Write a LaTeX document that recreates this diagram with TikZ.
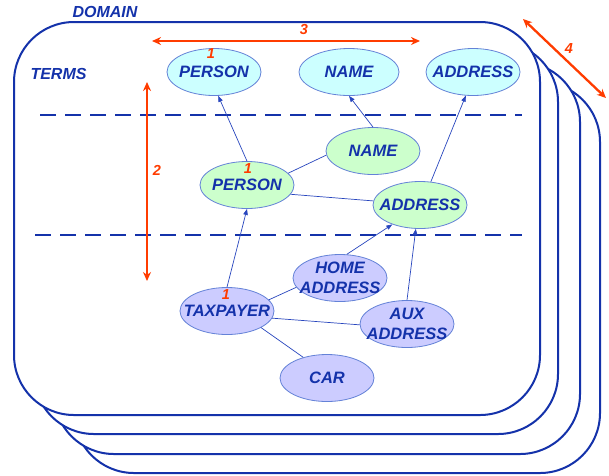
\documentclass[tikz,border=0pt]{standalone}
\usepackage{fontspec}
\setmainfont{Liberation Sans}
\usetikzlibrary{shapes.geometric,arrows.meta}
\definecolor{dblue}{RGB}{20,50,170}
\definecolor{eline}{RGB}{100,130,215}
\definecolor{cline}{RGB}{40,70,190}
\definecolor{redo}{RGB}{255,60,0}
\definecolor{cyanf}{RGB}{204,255,255}
\definecolor{greenf}{RGB}{204,255,204}
\definecolor{purplef}{RGB}{204,204,255}
\begin{document}
\begin{tikzpicture}[x=1pt,y=-1pt,
  card/.style={draw=dblue,line width=2pt,fill=white,rounded corners=60pt},
  term/.style={ellipse,draw=eline,line width=0.8pt,minimum width=94pt,minimum height=47pt,inner sep=0pt},
  tlbl/.style={font=\bfseries\itshape\fontsize{16.5}{20.5}\selectfont,text=dblue,align=center},
  ttl/.style={font=\bfseries\itshape\fontsize{16}{18}\selectfont,text=dblue},
  rlbl/.style={font=\bfseries\itshape\fontsize{14.5}{16}\selectfont,text=redo},
  dline/.style={draw=dblue,line width=2.5pt,dash pattern=on 16pt off 9pt},
  rarrow/.style={draw=redo,line width=2.3pt,{Stealth[length=9pt,width=8pt]}-{Stealth[length=9pt,width=8pt]}},
  conn/.style={draw=cline,line width=0.7pt},
  arr/.style={conn,-{Triangle[length=6pt,width=4.5pt]}}
]
\useasboundingbox (0,0) rectangle (609,475);
% stacked cards
\draw[card] (74,82) rectangle (600,473);
\draw[card] (54,62) rectangle (580,454);
\draw[card] (34,42) rectangle (558,434);
\draw[card] (14,22) rectangle (540,415);

\node[ttl,anchor=west] (domain) at (69,12) {DOMAIN};
\node[ttl,anchor=west] (terms) at (27,74) {TERMS};

% dashed separators
\coordinate (d1a) at (40,115); \coordinate (d1b) at (522,115);
\coordinate (d2a) at (35,235); \coordinate (d2b) at (522,235);
\draw[dline] (d1a) -- (d1b);
\draw[dline] (d2a) -- (d2b);

% red dimension arrows
\coordinate (h1) at (152,41); \coordinate (h2) at (420,41);
\draw[rarrow] (h1) -- (h2);
\node[rlbl] (l3) at (304,30) {3};
\coordinate (v1) at (147,82); \coordinate (v2) at (147,281);
\draw[rarrow] (v1) -- (v2);
\node[rlbl] (l2) at (157,170) {2};
\coordinate (g1) at (523,19); \coordinate (g2) at (606,98);
\draw[rarrow] (g1) -- (g2);
\node[rlbl] (l4) at (569,49) {4};

% top level terms
\node[term,fill=cyanf,label={[tlbl]center:PERSON}] (tperson) at (214,72) {};
\node[term,fill=cyanf,minimum width=100pt,label={[tlbl]center:NAME}] (tname) at (349,72) {};
\node[term,fill=cyanf,label={[tlbl]center:ADDRESS}] (taddress) at (473,72) {};

% middle level
\node[term,fill=greenf,label={[tlbl]center:NAME}] (gname) at (373,151) {};
\node[term,fill=greenf,label={[tlbl]center:PERSON}] (gperson) at (247,185) {};
\node[term,fill=greenf,label={[tlbl]center:ADDRESS}] (gaddress) at (420,205) {};

% bottom level
\node[term,fill=purplef,label={[tlbl]center:HOME\\ADDRESS}] (home) at (340,278) {};
\node[term,fill=purplef,label={[tlbl]center:TAXPAYER}] (tax) at (227,311) {};
\node[term,fill=purplef,label={[tlbl]center:AUX\\ADDRESS}] (aux) at (407,324) {};
\node[term,fill=purplef,label={[tlbl]center:CAR}] (car) at (327,378) {};

% connectors
\draw[arr] (gperson.north) -- (tperson.-80);
\draw[arr] (gname.north) -- (tname.south);
\draw[arr] (gaddress.65) -- (taddress.253);
\draw[conn] (gperson.16) -- (gname.185);
\draw[conn] (gperson.-12) -- (gaddress.175);
\draw[arr] (tax.north) -- (gperson.south);
\draw[arr] (home.74) -- (gaddress.215);
\draw[arr] (aux.north) -- (gaddress.260);
\draw[conn] (tax.15) -- (home.192);
\draw[conn] (tax.-9) -- (aux.181);
\draw[conn] (tax.-26) -- (car.139);

% multiplicity labels
\node[rlbl] (m1) at (211,54) {1};
\node[rlbl] (m2) at (248,169) {1};
\node[rlbl] (m3) at (226,295) {1};
\end{tikzpicture}
\end{document}
